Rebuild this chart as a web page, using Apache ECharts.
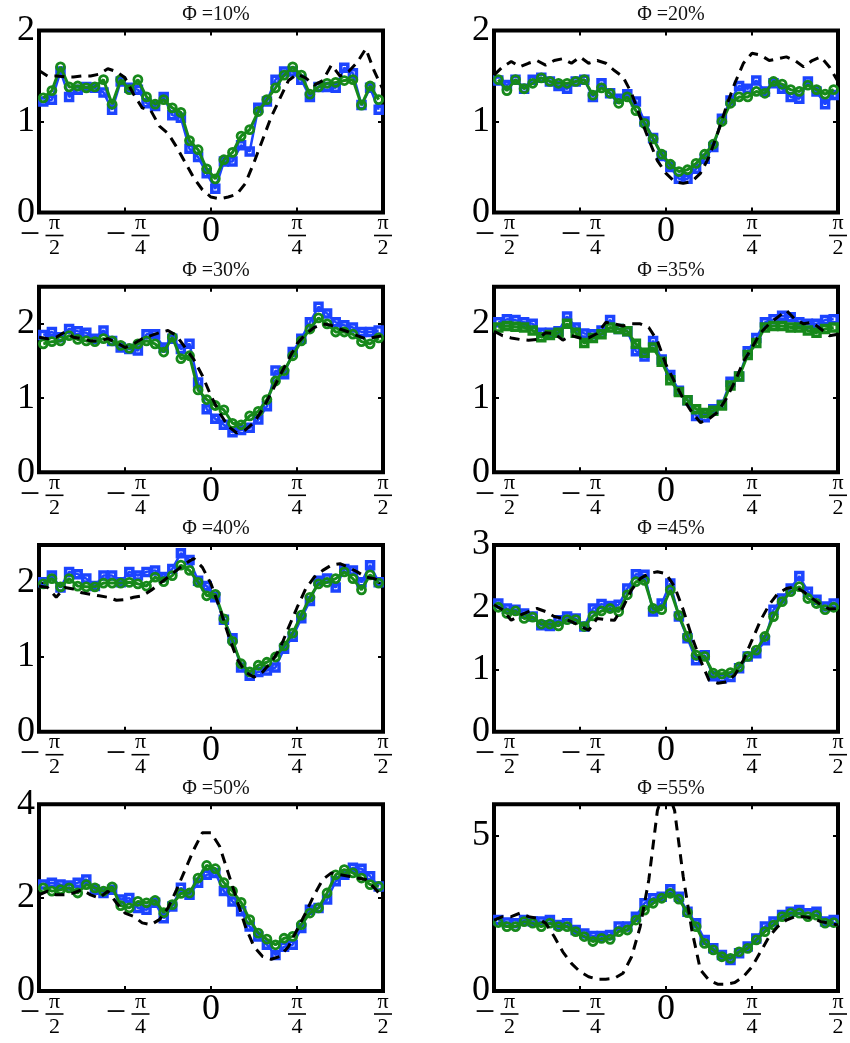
<!DOCTYPE html>
<html><head><meta charset="utf-8">
<script src="https://cdn.jsdelivr.net/npm/echarts@6/dist/echarts.min.js"></script>
<style>html,body{margin:0;padding:0;background:#fff}#chart{width:850px;height:1043px}</style>
</head><body><div id="chart"></div>
<script>
// ---- data (x in multiples of pi) ----
const panelTitles = ['Φ =10%','Φ =20%','Φ =30%','Φ =35%','Φ =40%','Φ =45%','Φ =50%','Φ =55%'];
const yMaxes = [2,2,2.5,2.5,2.5,3,4,6];
const yIntervals = [1,1,1,1,1,1,2,5];
const xTickValues = [-0.5,-0.25,0,0.25,0.5];
const xTickLabels = ['−π/2','−π/4','0','π/4','π/2'];
const greenMarker = ['circle','circle','circle','rect','circle','circle','circle','circle'];

const blue10 = [1.22,1.24,1.55,1.27,1.35,1.38,1.37,1.32,1.13,1.44,1.37,1.35,1.2,1.17,1.27,1.07,1.04,0.70,0.61,0.43,0.26,0.56,0.56,0.74,0.67,1.15,1.22,1.46,1.55,1.55,1.46,1.27,1.38,1.38,1.37,1.59,1.53,1.18,1.37,1.13];
const green10 = [1.26,1.34,1.60,1.38,1.39,1.37,1.38,1.46,1.19,1.46,1.35,1.46,1.27,1.19,1.24,1.15,1.10,0.79,0.69,0.48,0.37,0.58,0.66,0.84,0.91,1.11,1.24,1.37,1.51,1.60,1.51,1.30,1.38,1.42,1.43,1.45,1.46,1.18,1.39,1.24];
const theory10 = [1.56,1.5,1.5,1.49,1.49,1.5,1.5,1.52,1.58,1.55,1.48,1.3,1.15,1.12,0.95,0.87,0.72,0.55,0.38,0.25,0.17,0.15,0.17,0.2,0.32,0.55,0.8,1.05,1.25,1.45,1.52,1.48,1.4,1.45,1.62,1.5,1.55,1.65,1.8,1.55,1.35];

const blue20 = [1.45,1.4,1.46,1.36,1.46,1.48,1.44,1.39,1.36,1.44,1.46,1.27,1.42,1.31,1.25,1.3,1.22,1.0,0.82,0.62,0.5,0.37,0.37,0.48,0.59,0.72,1.03,1.23,1.39,1.36,1.45,1.33,1.42,1.36,1.27,1.25,1.44,1.33,1.19,1.29];
const green20 = [1.46,1.34,1.46,1.36,1.42,1.48,1.44,1.42,1.42,1.44,1.46,1.29,1.37,1.31,1.2,1.27,1.12,0.98,0.81,0.64,0.53,0.45,0.47,0.54,0.64,0.75,1.0,1.2,1.27,1.27,1.33,1.31,1.44,1.41,1.35,1.33,1.4,1.35,1.3,1.35];
const theory20 = [1.51,1.6,1.66,1.6,1.64,1.67,1.62,1.67,1.69,1.64,1.71,1.64,1.67,1.64,1.56,1.49,1.31,1.05,0.8,0.57,0.43,0.34,0.32,0.34,0.43,0.61,0.87,1.16,1.42,1.64,1.75,1.73,1.67,1.69,1.71,1.67,1.6,1.67,1.71,1.6,1.44];

const blue30 = [1.85,1.89,1.82,1.93,1.9,1.88,1.8,1.91,1.77,1.68,1.66,1.64,1.86,1.86,1.68,1.8,1.66,1.73,1.21,0.85,0.72,0.64,0.54,0.57,0.6,0.71,0.89,1.37,1.32,1.62,1.8,2.02,2.23,2.14,2.02,1.98,1.95,1.89,1.89,1.91];
const green30 = [1.73,1.76,1.77,1.84,1.79,1.77,1.76,1.8,1.77,1.71,1.67,1.73,1.77,1.73,1.62,1.82,1.53,1.57,1.11,0.98,0.9,0.84,0.66,0.64,0.76,0.82,0.98,1.23,1.37,1.57,1.77,1.93,2.08,2.0,1.89,1.89,1.86,1.76,1.73,1.81];
const theory30 = [1.82,1.8,1.82,1.89,1.82,1.8,1.77,1.77,1.8,1.75,1.68,1.73,1.8,1.84,1.88,1.91,1.84,1.68,1.52,1.3,1.03,0.8,0.62,0.53,0.57,0.67,0.85,1.07,1.3,1.52,1.73,1.86,1.95,2.0,1.98,1.93,1.89,1.84,1.8,1.82,1.84];

const blue35 = [2.02,2.06,2.05,2.02,2.0,1.88,1.88,1.9,2.1,1.95,1.87,1.86,1.91,2.05,1.93,1.9,1.63,1.56,1.77,1.52,1.31,1.1,0.97,0.76,0.74,0.85,0.91,1.22,1.29,1.63,1.81,2.02,2.06,2.11,2.09,2.02,2.0,2.0,2.05,2.06];
const green35 = [1.95,1.97,1.96,1.95,1.91,1.82,1.85,1.88,2.0,1.88,1.74,1.81,1.86,1.95,1.93,1.9,1.73,1.61,1.68,1.49,1.24,1.08,0.97,0.85,0.8,0.83,0.9,1.17,1.29,1.58,1.74,1.95,1.97,1.97,1.95,1.95,1.91,1.88,1.93,1.95];
const theory35 = [1.9,1.84,1.81,1.79,1.78,1.79,1.88,1.87,1.78,1.84,1.81,1.81,1.87,2.02,2.0,1.97,2.0,2.0,1.95,1.77,1.45,1.22,0.99,0.81,0.67,0.72,0.81,0.99,1.22,1.49,1.68,1.88,2.0,2.09,2.18,2.06,2.0,2.02,1.93,1.84,1.86];

const blue40 = [2.0,2.09,1.93,2.14,2.11,2.05,1.95,2.09,2.09,2.0,2.14,2.09,2.14,2.16,2.07,2.18,2.39,2.3,2.02,1.95,1.8,1.5,1.25,0.86,0.75,0.8,0.82,0.86,1.11,1.27,1.52,1.75,2.02,2.05,1.93,2.18,2.16,2.0,2.23,2.0];
const green40 = [1.98,2.05,1.94,2.05,1.95,1.94,1.94,1.99,1.99,1.99,2.0,1.98,1.95,2.07,2.01,2.09,2.23,2.16,2.0,1.82,1.84,1.51,1.21,0.91,0.8,0.89,0.93,1.0,1.15,1.32,1.56,1.8,1.98,2.0,2.05,2.14,2.05,1.9,2.1,1.99];
const theory40 = [1.95,1.93,1.8,1.93,1.91,1.86,1.84,1.82,1.8,1.76,1.77,1.8,1.82,1.89,1.98,2.07,2.16,2.25,2.32,2.2,1.98,1.66,1.3,0.98,0.8,0.73,0.8,0.93,1.11,1.39,1.66,1.91,2.07,2.16,2.23,2.25,2.2,2.14,2.07,2.05,2.0];

const blue45 = [2.06,1.98,1.96,1.9,1.85,1.71,1.7,1.79,1.85,1.82,1.69,1.98,2.05,2.02,2.04,2.3,2.53,2.52,1.93,2.06,2.38,1.85,1.5,1.15,1.23,0.89,0.86,0.88,1.02,1.21,1.26,1.47,1.96,2.14,2.3,2.5,2.25,2.12,2.01,2.06];
const green45 = [2.0,1.9,1.94,1.82,1.84,1.73,1.73,1.7,1.8,1.8,1.69,1.86,1.94,1.98,1.93,2.2,2.41,2.43,1.98,1.96,2.28,1.87,1.53,1.23,1.21,0.94,0.93,0.95,1.04,1.21,1.31,1.53,1.85,2.09,2.25,2.33,2.14,2.06,1.96,2.0];
const theory45 = [2.04,1.96,1.79,1.87,1.93,1.98,1.93,1.85,1.82,1.77,1.7,1.63,1.82,1.8,1.79,2.0,2.28,2.46,2.54,2.57,2.54,2.33,1.96,1.53,1.15,0.83,0.78,0.8,0.91,1.15,1.47,1.79,2.04,2.22,2.3,2.33,2.25,2.14,2.04,1.97,1.98];

const blue50 = [2.28,2.32,2.28,2.26,2.32,2.39,2.17,2.1,2.17,1.96,1.99,1.78,1.74,1.89,1.56,1.81,2.21,2.06,2.32,2.49,2.53,2.14,1.92,1.71,1.38,1.17,0.99,0.77,0.95,0.99,1.35,1.74,1.78,1.96,2.35,2.49,2.64,2.62,2.46,2.24];
const green50 = [2.21,2.14,2.17,2.21,2.1,2.28,2.21,2.14,2.23,1.83,1.78,1.92,1.89,1.94,1.68,1.85,2.09,2.1,2.42,2.69,2.62,2.32,2.14,1.9,1.53,1.24,1.11,0.99,1.13,1.17,1.42,1.67,1.78,2.1,2.49,2.6,2.53,2.42,2.28,2.24];
const theory50 = [2.06,2.14,2.06,2.06,2.1,2.17,2.06,1.99,2.14,1.89,1.67,1.6,1.46,1.42,1.53,1.78,2.17,2.6,3.03,3.39,3.39,3.1,2.53,1.96,1.38,0.95,0.74,0.68,0.74,0.95,1.31,1.67,2.06,2.39,2.53,2.49,2.46,2.42,2.39,2.21,1.99];

const blue55 = [2.28,2.2,2.18,2.28,2.23,2.23,2.28,2.12,2.18,1.96,1.85,1.77,1.77,1.8,2.07,2.07,2.39,2.82,2.98,3.03,3.27,3.03,2.55,2.18,1.64,1.37,1.16,1.0,1.21,1.43,1.69,2.07,2.23,2.44,2.55,2.6,2.5,2.55,2.23,2.28];
const green55 = [2.2,2.07,2.07,2.23,2.18,2.07,2.18,2.07,2.07,1.91,1.75,1.59,1.69,1.66,1.91,1.96,2.28,2.6,2.82,2.98,3.14,2.95,2.52,2.07,1.53,1.32,1.1,1.05,1.26,1.37,1.64,1.91,2.12,2.39,2.5,2.5,2.39,2.44,2.18,2.2];
const theory55 = [2.28,2.39,2.39,2.5,2.39,2.34,2.18,1.75,1.26,0.89,0.62,0.46,0.38,0.38,0.41,0.57,1.1,2.07,3.57,5.8,6.6,5.8,3.68,1.96,0.68,0.35,0.22,0.22,0.27,0.46,0.78,1.26,1.75,2.07,2.28,2.39,2.39,2.34,2.23,2.18,2.12];

const blueSets = [blue10,blue20,blue30,blue35,blue40,blue45,blue50,blue55];
const greenSets = [green10,green20,green30,green35,green40,green45,green50,green55];
const theorySets = [theory10,theory20,theory30,theory35,theory40,theory45,theory50,theory55];

// sample positions (multiples of pi): 40 measurement bins, 41 theory nodes
const xMeas = blue10.map((_, i) => -0.5 + (i + 0.5) / 40);
const xTheory = theory10.map((_, j) => -0.5 + j / 40);

// ---- layout / style ----
const FONT = 'Liberation Serif';
const BLUE = '#1c44ff', GREEN = '#17891b';
const colLeft = [39, 494];
const gridW = 344;
const rows = [[30.5,182],[286.7,185.6],[545,186.7],[804.3,186.7]];

const rich = {
  p: {fontFamily: FONT, fontSize: 22, color: '#000', width: 18, align: 'center', lineHeight: 16},
  d: {fontFamily: FONT, fontSize: 22, color: '#000', width: 18, align: 'center', lineHeight: 18},
  b: {width: 18, height: 1.6, backgroundColor: '#000', lineHeight: 8, fontSize: 4},
  m: {fontFamily: FONT, fontSize: 36, color: '#000', width: 31, lineHeight: 8},
  s: {width: 31, lineHeight: 16, fontSize: 4},
  z: {fontFamily: FONT, fontSize: 36, color: '#000', lineHeight: 32}
};
function xLabel(v) {
  const k = xTickValues.findIndex(t => Math.abs(t - v) < 1e-6);
  if (k < 0) return '';
  const s = xTickLabels[k];
  const m = s.match(/^(−?)(.+)\/(.+)$/);
  if (!m) return '{z|' + s + '}';
  if (m[1]) return '{s|\u00a0}{p|' + m[2] + '}\n{m|' + m[1] + '}{b|\u00a0}\n{s|\u00a0}{d|' + m[3] + '}';
  return '{p|' + m[2] + '}\n{b|\u00a0}\n{d|' + m[3] + '}';
}

const grids = [], xAxes = [], yAxes = [], series = [], titles = [];
const tick = {show: true, inside: true, length: 5, lineStyle: {color: '#000', width: 2}};
const noLine = {show: false, onZero: false};
panelTitles.forEach((t, p) => {
  const col = p % 2, row = Math.floor(p / 2);
  const left = colLeft[col], top = rows[row][0], h = rows[row][1];
  grids.push({left, top, width: gridW, height: h, show: true, borderColor: '#000', borderWidth: 4, backgroundColor: 'transparent', containLabel: false});
  titles.push({text: t, left: left + gridW / 2, top: top - 31, textAlign: 'center',
    textStyle: {fontFamily: FONT, fontSize: 20, fontWeight: 'normal', color: '#111'}});
  const xBase = {type: 'value', gridIndex: p, min: -0.5, max: 0.5, interval: 0.25,
    axisLine: noLine, splitLine: {show: false}, axisTick: tick};
  xAxes.push(Object.assign({}, xBase, {position: 'bottom',
    axisLabel: {show: true, margin: 3, formatter: xLabel, rich, showMinLabel: true, showMaxLabel: true, hideOverlap: false}}));
  xAxes.push(Object.assign({}, xBase, {position: 'top', axisLabel: {show: false}}));
  const yBase = {type: 'value', gridIndex: p, min: 0, max: yMaxes[p], interval: yIntervals[p],
    axisLine: noLine, splitLine: {show: false}, axisTick: tick};
  const exactTop = Math.abs(yMaxes[p] / yIntervals[p] - Math.round(yMaxes[p] / yIntervals[p])) < 1e-9;
  yAxes.push(Object.assign({}, yBase, {position: 'left',
    axisLabel: {show: true, margin: 4, fontFamily: FONT, fontSize: 36, color: '#000', showMinLabel: true, showMaxLabel: exactTop, hideOverlap: false}}));
  yAxes.push(Object.assign({}, yBase, {position: 'right', axisLabel: {show: false}}));
  const common = {type: 'line', xAxisIndex: 2 * p, yAxisIndex: 2 * p, clip: true, animation: false,
    emphasis: {disabled: true}, showAllSymbol: true, silent: true};
  series.push(Object.assign({}, common, {name: 'blue' + p,
    data: blueSets[p].map((v, i) => [xMeas[i], v]),
    symbol: 'rect', symbolSize: 7,
    itemStyle: {color: 'rgba(0,0,0,0)', borderColor: BLUE, borderWidth: 3.5},
    lineStyle: {color: BLUE, width: 2.5}, z: 2}));
  const isRect = greenMarker[p] === 'rect';
  series.push(Object.assign({}, common, {name: 'green' + p,
    data: greenSets[p].map((v, i) => [xMeas[i], v]),
    symbol: greenMarker[p], symbolSize: isRect ? 7 : 8,
    itemStyle: {color: 'rgba(0,0,0,0)', borderColor: GREEN, borderWidth: isRect ? 3.5 : 2.8},
    lineStyle: {color: GREEN, width: 3}, z: 3}));
  series.push(Object.assign({}, common, {name: 'theory' + p,
    data: theorySets[p].map((v, j) => [xTheory[j], v]),
    symbol: 'none', showSymbol: false,
    lineStyle: {color: '#000', width: 3, type: [10, 7]}, z: 4}));
});

const chart = echarts.init(document.getElementById('chart'), null, {renderer: 'canvas'});
chart.setOption({
  animation: false,
  backgroundColor: '#fff',
  title: titles,
  grid: grids,
  xAxis: xAxes,
  yAxis: yAxes,
  series
});
</script></body></html>
